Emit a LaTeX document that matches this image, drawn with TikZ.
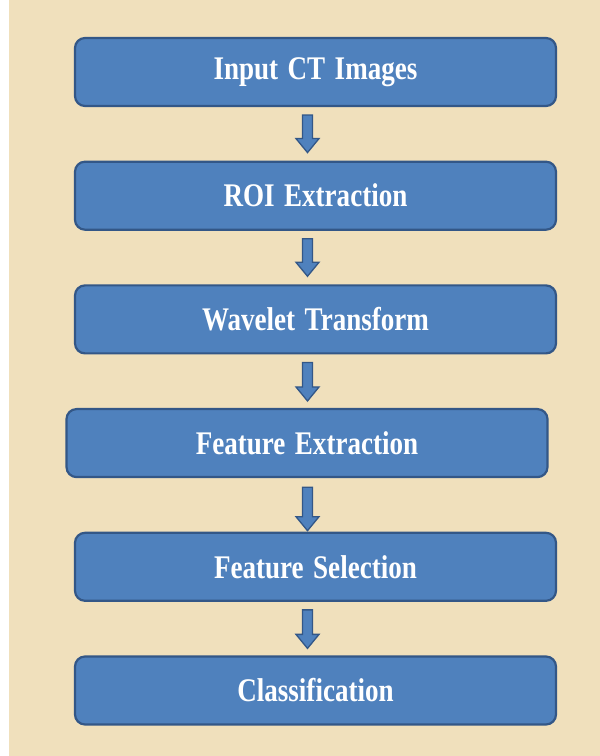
\documentclass[tikz,border=0pt]{standalone}
\usepackage{fontspec}
\setmainfont{Liberation Serif}
\newfontfamily\stagefont{Liberation Serif}[FakeStretch=0.82,WordSpace=1.4]
\usetikzlibrary{positioning,calc}

\definecolor{parchment}{HTML}{F0E0BC}
\definecolor{boxfill}{HTML}{4F81BD}
\definecolor{boxline}{HTML}{335787}

\begin{document}
\begin{tikzpicture}[x=1pt,y=1pt,node distance=53.5pt,
    stage/.style={draw=boxline,fill=boxfill,line width=2.2pt,rounded corners=10pt,
      minimum width=481pt,minimum height=68pt,text=white,
      font=\stagefont\bfseries\fontsize{33}{36}\selectfont},
    blockarrow/.style={draw=boxline,fill=boxfill,line width=1.3pt,
      to path={let \p1=(\tikztostart), \p2=(\tikztotarget) in
        (\x1-5pt,\y1) -- (\x1-5pt,\y2+14pt) -- (\x1-11.5pt,\y2+14pt) -- (\x1,\y2)
        -- (\x1+11.5pt,\y2+14pt) -- (\x1+5pt,\y2+14pt) -- (\x1+5pt,\y1) -- cycle}}]

  % paper
  \fill[white] (0,0) rectangle (600,756);
  \fill[parchment] (9,0) rectangle (600,756);
  \useasboundingbox (0,0) rectangle (600,756);

  \node[stage] (input) at (315.5,684)                 {Input CT Images};
  \node[stage] (roi)   [below=of input]               {ROI Extraction};
  \node[stage] (wave)  [below=of roi]                 {Wavelet Transform};
  \node[stage] (feat)  [below=of wave,xshift=-8.5pt]  {Feature Extraction};
  \node[stage] (sel)   [below=of feat,xshift=8.5pt]   {Feature Selection};
  \node[stage] (class) [below=of sel]                 {Classification};

  \draw[blockarrow] ([xshift=-8pt,yshift=-8pt]input.south) to ([yshift=8pt]roi.north);
  \draw[blockarrow] ([xshift=-8pt,yshift=-8pt]roi.south)   to ([yshift=8pt]wave.north);
  \draw[blockarrow] ([xshift=-8pt,yshift=-8pt]wave.south)  to ([yshift=7pt]feat.north);
  \draw[blockarrow] ([xshift=0.5pt,yshift=-9pt]feat.south) to ([yshift=1pt]sel.north);
  \draw[blockarrow] ([xshift=-8pt,yshift=-8pt]sel.south)   to ([yshift=7pt]class.north);
\end{tikzpicture}
\end{document}
